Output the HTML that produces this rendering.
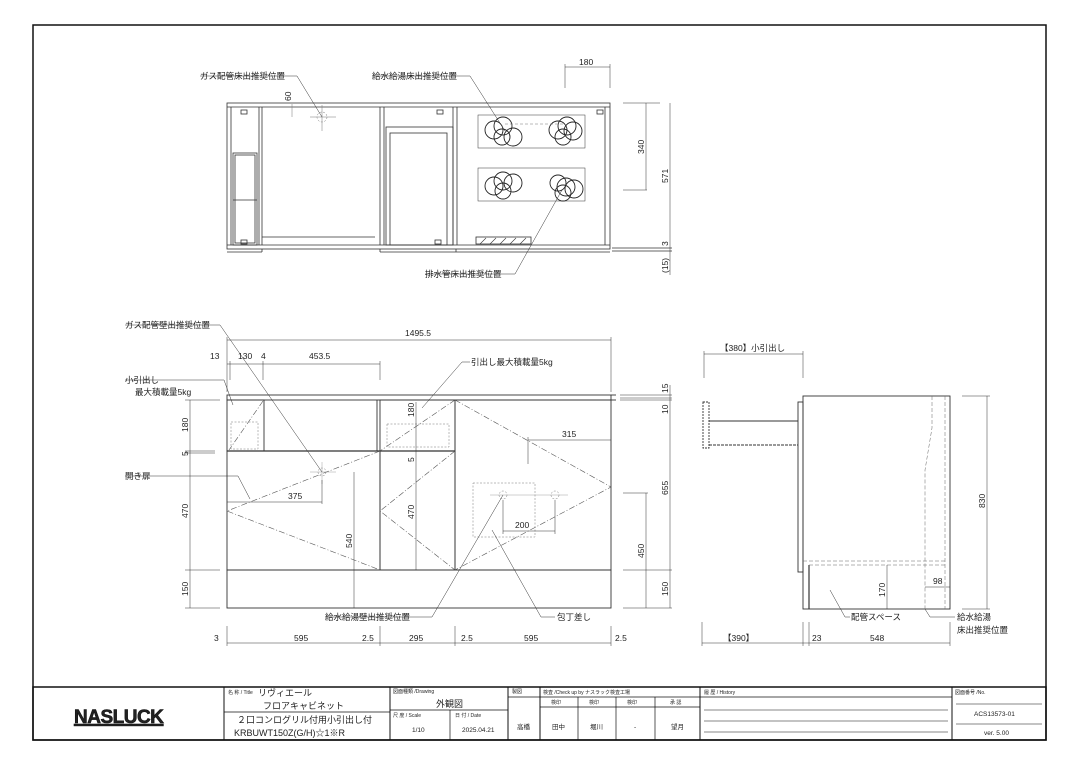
<!DOCTYPE html>
<html><head><meta charset="utf-8"><style>
html,body{margin:0;padding:0;background:#fff;}
svg{display:block;font-family:"Liberation Sans","Noto Sans CJK JP",sans-serif;}
text{fill:#222;}
</style></head><body>
<svg width="1080" height="764" viewBox="0 0 1080 764" xmlns="http://www.w3.org/2000/svg">
<rect x="0" y="0" width="1080" height="764" fill="#fff"/>
<rect x="33" y="25" width="1013" height="715" fill="none" stroke="#111" stroke-width="1.5"/>

<!-- TOP PLAN VIEW -->
<g stroke="#333" stroke-width="0.8" fill="none">
<rect x="227" y="103" width="383" height="146"/>
<line x1="227" y1="107" x2="610" y2="107"/>
<line x1="227" y1="245" x2="610" y2="245"/>
<line x1="227" y1="252" x2="262" y2="252"/><line x1="380" y1="252" x2="610" y2="252"/>
<line x1="262" y1="249" x2="262" y2="252"/><line x1="380" y1="249" x2="380" y2="252"/><line x1="456" y1="249" x2="456" y2="252"/>
<line x1="259" y1="107" x2="259" y2="245"/><line x1="262" y1="107" x2="262" y2="245"/>
<line x1="262" y1="237" x2="375" y2="237"/>
<rect x="233" y="153" width="24" height="92"/><rect x="235" y="155" width="20" height="88"/>
<line x1="233" y1="200" x2="257" y2="200"/>
<line x1="231" y1="107" x2="231" y2="245"/>
<line x1="380" y1="107" x2="380" y2="245"/><line x1="384" y1="107" x2="384" y2="245"/>
<line x1="453" y1="107" x2="453" y2="245"/><line x1="457" y1="107" x2="457" y2="245"/>
<rect x="386" y="127" width="67" height="118"/><rect x="390" y="133" width="57" height="112"/>
<line x1="605" y1="107" x2="605" y2="245"/>
<rect x="241" y="110" width="6" height="4"/><rect x="437" y="110" width="6" height="4"/><rect x="597" y="110" width="6" height="4"/>
<rect x="241" y="240" width="6" height="4"/><rect x="435" y="240" width="6" height="4"/>
<rect x="478" y="115" width="107" height="33" stroke-width="0.5"/>
<rect x="478" y="168" width="107" height="33" stroke-width="0.5"/>
<rect x="476" y="237" width="55" height="7"/>
<path d="M480 244 l6 -6 M490 244 l6 -6 M500 244 l6 -6 M510 244 l6 -6 M520 244 l6 -6" stroke-width="0.6"/>
</g>
<g stroke="#222" stroke-width="0.9" fill="none">
<circle cx="494" cy="130" r="9"/><circle cx="503" cy="126" r="9"/><circle cx="502" cy="137" r="8"/><circle cx="513" cy="137" r="9"/>
<circle cx="558" cy="130" r="9"/><circle cx="567" cy="126" r="9"/><circle cx="563" cy="137" r="8"/><circle cx="573" cy="131" r="9"/>
<circle cx="494" cy="186" r="9"/><circle cx="503" cy="181" r="9"/><circle cx="503" cy="191" r="8"/><circle cx="513" cy="183" r="9"/>
<circle cx="558" cy="183" r="8"/><circle cx="566" cy="187" r="9"/><circle cx="563" cy="193" r="8"/><circle cx="574" cy="189" r="9"/>
</g>
<g stroke="#777" stroke-width="0.5" fill="none">
<circle cx="322" cy="117" r="5" stroke-dasharray="2 1.5"/>
<line x1="310" y1="117" x2="336" y2="117"/><line x1="322" y1="105" x2="322" y2="131"/>
<line x1="292" y1="104" x2="292" y2="117"/>
<line x1="505" y1="124" x2="565" y2="124" stroke-dasharray="3 2"/>
</g>
<g stroke="#333" stroke-width="0.5" fill="none">
<line x1="565" y1="67" x2="610" y2="67"/><line x1="565" y1="64" x2="565" y2="88"/><line x1="610" y1="64" x2="610" y2="88"/>
<line x1="623" y1="103" x2="660" y2="103"/><line x1="623" y1="190" x2="647" y2="190"/>
<line x1="612" y1="248" x2="672" y2="248" stroke-width="0.8"/><line x1="612" y1="251" x2="672" y2="251" stroke-width="0.8"/>
<line x1="646" y1="103" x2="646" y2="190"/>
<line x1="670" y1="103" x2="670" y2="275"/>
<line x1="200" y1="76" x2="297" y2="76"/><path d="M297 76 L322 117"/>
<line x1="372" y1="76" x2="470" y2="76"/><path d="M470 76 L505 131"/>
<line x1="425" y1="274" x2="515" y2="274"/><path d="M515 274 L562 190"/>
</g>
<g font-size="8.5">
<text x="200" y="79">ガス配管床出推奨位置</text>
<text x="372" y="79">給水給湯床出推奨位置</text>
<text x="425" y="277">排水管床出推奨位置</text>
<text x="579" y="65">180</text>
<text transform="translate(291,101) rotate(-90)">60</text>
<text transform="translate(644,154) rotate(-90)">340</text>
<text transform="translate(668,183) rotate(-90)">571</text>
<text transform="translate(668,246) rotate(-90)">3</text>
<text transform="translate(668,273) rotate(-90)">(15)</text>
</g>

<!-- FRONT VIEW -->
<g stroke="#333" stroke-width="0.9" fill="none">
<rect x="227" y="395" width="384" height="5"/>
<line x1="611" y1="395" x2="616" y2="395"/><line x1="611" y1="400" x2="616" y2="400"/>
<rect x="227" y="400" width="37" height="51"/>
<rect x="380" y="400" width="75" height="51"/>
<line x1="377" y1="400" x2="377" y2="451"/>
<line x1="227" y1="451" x2="455" y2="451" stroke-width="1.3"/>
<rect x="227" y="451" width="153" height="119"/>
<rect x="380" y="451" width="75" height="119"/>
<rect x="455" y="400" width="156" height="170"/>
<rect x="227" y="570" width="384" height="38"/>
</g>
<g stroke="#555" stroke-width="0.6" fill="none" stroke-dasharray="6 2 1 2">
<path d="M380 451 L227 511 L380 570"/>
<path d="M455 451 L380 511 L455 570"/>
<path d="M455 400 L611 487 L455 570"/>
<path d="M455 400 L380 451"/>
<path d="M263 401 L229 450"/>
</g>
<g stroke="#777" stroke-width="0.5" fill="none" stroke-dasharray="2 1.5">
<rect x="231" y="422" width="27" height="27"/>
<rect x="387" y="424" width="62" height="23"/>
<rect x="473" y="483" width="62" height="54"/>
<circle cx="322" cy="472" r="4"/><circle cx="503" cy="495" r="4"/><circle cx="555" cy="495" r="4"/>
</g>
<g stroke="#888" stroke-width="0.4" fill="none">
<line x1="310" y1="472" x2="336" y2="472"/><line x1="322" y1="462" x2="322" y2="484"/>
<line x1="490" y1="495" x2="568" y2="495"/>
</g>
<g stroke="#333" stroke-width="0.5" fill="none">
<line x1="227" y1="340" x2="611" y2="340"/>
<line x1="227" y1="337" x2="227" y2="392"/><line x1="611" y1="337" x2="611" y2="392"/>
<line x1="227" y1="364" x2="380" y2="364"/>
<line x1="230" y1="361" x2="230" y2="380"/><line x1="263" y1="361" x2="263" y2="380"/><line x1="380" y1="361" x2="380" y2="380"/>
<line x1="190" y1="400" x2="190" y2="608"/>
<line x1="185" y1="400" x2="220" y2="400"/><line x1="185" y1="451" x2="215" y2="451"/><line x1="185" y1="453" x2="215" y2="453"/>
<line x1="185" y1="570" x2="220" y2="570"/><line x1="185" y1="608" x2="220" y2="608"/>
<line x1="227" y1="502" x2="322" y2="502"/><line x1="322" y1="480" x2="322" y2="504"/>
<line x1="354" y1="472" x2="354" y2="608"/>
<line x1="416" y1="402" x2="416" y2="570"/>
<line x1="528" y1="440" x2="611" y2="440"/><line x1="528" y1="437" x2="528" y2="464"/>
<line x1="503" y1="531" x2="555" y2="531"/><line x1="503" y1="500" x2="503" y2="534"/><line x1="555" y1="500" x2="555" y2="534"/>
<line x1="620" y1="395" x2="672" y2="395"/><line x1="620" y1="398" x2="672" y2="398"/><line x1="620" y1="400" x2="672" y2="400"/>
<line x1="623" y1="493" x2="648" y2="493"/><line x1="623" y1="570" x2="672" y2="570"/><line x1="623" y1="608" x2="672" y2="608"/>
<line x1="670" y1="385" x2="670" y2="608"/><line x1="646" y1="493" x2="646" y2="608"/>
<line x1="227" y1="643" x2="611" y2="643"/>
<line x1="227" y1="626" x2="227" y2="646"/><line x1="380" y1="626" x2="380" y2="646"/><line x1="455" y1="626" x2="455" y2="646"/><line x1="611" y1="626" x2="611" y2="646"/>
<line x1="125" y1="325" x2="220" y2="325"/><path d="M220 325 L322 472"/>
<line x1="125" y1="380" x2="224" y2="380"/><path d="M224 380 L233 405"/>
<line x1="125" y1="476" x2="238" y2="476"/><path d="M238 476 L250 499"/>
<line x1="462" y1="362" x2="470" y2="362"/><path d="M462 362 L422 408"/>
<line x1="325" y1="617" x2="432" y2="617"/><path d="M432 617 L503 495"/>
<line x1="541" y1="617" x2="555" y2="617"/><path d="M541 617 L492 530"/>
</g>
<g font-size="8.5">
<text x="125" y="328">ガス配管壁出推奨位置</text>
<text x="125" y="383">小引出し</text>
<text x="135" y="395">最大積載量5kg</text>
<text x="125" y="479">開き扉</text>
<text x="471" y="365">引出し最大積載量5kg</text>
<text x="325" y="620">給水給湯壁出推奨位置</text>
<text x="557" y="620">包丁差し</text>
<text x="405" y="336">1495.5</text>
<text x="210" y="359">13</text><text x="238" y="359">130</text><text x="261" y="359">4</text><text x="309" y="359">453.5</text>
<text x="562" y="437">315</text>
<text x="288" y="499">375</text>
<text x="515" y="528">200</text>
<text x="214" y="641">3</text><text x="294" y="641">595</text><text x="362" y="641">2.5</text><text x="409" y="641">295</text><text x="461" y="641">2.5</text><text x="524" y="641">595</text><text x="615" y="641">2.5</text>
<text transform="translate(188,432) rotate(-90)">180</text>
<text transform="translate(188,456) rotate(-90)">5</text>
<text transform="translate(188,518) rotate(-90)">470</text>
<text transform="translate(188,596) rotate(-90)">150</text>
<text transform="translate(352,548) rotate(-90)">540</text>
<text transform="translate(414,417) rotate(-90)">180</text>
<text transform="translate(414,462) rotate(-90)">5</text>
<text transform="translate(414,519) rotate(-90)">470</text>
<text transform="translate(668,393) rotate(-90)">15</text>
<text transform="translate(668,414) rotate(-90)">10</text>
<text transform="translate(668,495) rotate(-90)">655</text>
<text transform="translate(644,558) rotate(-90)">450</text>
<text transform="translate(668,596) rotate(-90)">150</text>
</g>

<!-- SIDE VIEW -->
<g stroke="#333" stroke-width="0.9" fill="none">
<rect x="803" y="396" width="147" height="213"/>
<rect x="798" y="402" width="5" height="170"/>
<rect x="703" y="402" width="6" height="46" stroke-dasharray="2 1"/>
<line x1="709" y1="421" x2="798" y2="421"/>
<line x1="709" y1="445" x2="798" y2="445" stroke-dasharray="3 1"/>
<line x1="809" y1="565" x2="809" y2="609" stroke-width="1.2"/>
</g>
<g stroke="#666" stroke-width="0.5" fill="none" stroke-dasharray="4 2">
<line x1="945" y1="396" x2="945" y2="609"/>
<path d="M932 396 L932 428 L925 470 L925 609"/>
<line x1="803" y1="561" x2="945" y2="561"/>
<line x1="809" y1="565" x2="945" y2="565"/>
</g>
<g stroke="#333" stroke-width="0.5" fill="none">
<line x1="704" y1="354" x2="803" y2="354"/><line x1="704" y1="351" x2="704" y2="378"/><line x1="803" y1="351" x2="803" y2="378"/>
<line x1="962" y1="396" x2="990" y2="396"/><line x1="962" y1="609" x2="990" y2="609"/>
<line x1="987" y1="396" x2="987" y2="609"/>
<line x1="887" y1="565" x2="887" y2="609"/>
<line x1="925" y1="587" x2="950" y2="587"/>
<line x1="702" y1="643" x2="950" y2="643"/>
<line x1="702" y1="622" x2="702" y2="646"/><line x1="803" y1="622" x2="803" y2="646"/><line x1="809" y1="622" x2="809" y2="646"/><line x1="950" y1="622" x2="950" y2="646"/>
<path d="M830 590 L845 617 L850 617"/>
<path d="M925 609 L930 617 L955 617"/>
</g>
<g font-size="8.5">
<text x="720" y="351">【380】小引出し</text>
<text x="851" y="620">配管スペース</text>
<text x="957" y="620">給水給湯</text>
<text x="957" y="633">床出推奨位置</text>
<text x="933" y="584">98</text>
<text x="723" y="641">【390】</text>
<text x="812" y="641">23</text>
<text x="870" y="641">548</text>
<text transform="translate(985,508) rotate(-90)">830</text>
<text transform="translate(885,597) rotate(-90)">170</text>
</g>

<!-- TITLE BLOCK -->
<g stroke="#111" stroke-width="1" fill="none">
<rect x="33" y="687" width="1013" height="53" stroke-width="1.5"/>
<line x1="224" y1="687" x2="224" y2="740"/>
<line x1="390" y1="687" x2="390" y2="740"/>
<line x1="224" y1="712" x2="390" y2="712" stroke-width="0.7"/>
<line x1="390" y1="710" x2="508" y2="710" stroke-width="0.7"/>
<line x1="450" y1="710" x2="450" y2="740" stroke-width="0.7"/>
<line x1="508" y1="687" x2="508" y2="740"/>
<line x1="540" y1="687" x2="540" y2="740"/>
<line x1="508" y1="697" x2="700" y2="697" stroke-width="0.7"/>
<line x1="540" y1="707" x2="700" y2="707" stroke-width="0.7"/>
<line x1="578" y1="697" x2="578" y2="740" stroke-width="0.7"/>
<line x1="616" y1="697" x2="616" y2="740" stroke-width="0.7"/>
<line x1="655" y1="697" x2="655" y2="740" stroke-width="0.7"/>
<line x1="700" y1="687" x2="700" y2="740"/>
<line x1="700" y1="697" x2="952" y2="697" stroke-width="0.7"/>
<line x1="704" y1="710" x2="948" y2="710" stroke-width="0.6"/>
<line x1="704" y1="721" x2="948" y2="721" stroke-width="0.6"/>
<line x1="704" y1="732" x2="948" y2="732" stroke-width="0.6"/>
<line x1="952" y1="687" x2="952" y2="740"/>
<line x1="956" y1="704" x2="1042" y2="704" stroke-width="0.6"/>
<line x1="956" y1="724" x2="1042" y2="724" stroke-width="0.6"/>
</g>
<text x="74" y="723" font-size="19" font-weight="bold" fill="#111" stroke="#111" stroke-width="0.6" letter-spacing="-0.5" style="text-decoration:underline">NASLUCK</text>
<g font-size="5" fill="#333">
<text x="228" y="694">名 称 / Title</text>
<text x="393" y="693">図面種類 /Drawing</text>
<text x="393" y="717">尺 度 / Scale</text>
<text x="455" y="717">日 付 / Date</text>
<text x="512" y="693">製図</text>
<text x="543" y="694">検査 /Check up by ナスラック検査工場</text>
<text x="551" y="704">検印</text><text x="589" y="704">検印</text><text x="627" y="704">検印</text><text x="670" y="704">承 認</text>
<text x="704" y="694">履 歴 / History</text>
<text x="955" y="694">図面番号 /No.</text>
</g>
<g font-size="9" fill="#111">
<text x="258" y="696">リヴィエール</text>
<text x="263" y="709">フロアキャビネット</text>
<text x="237" y="723">２口コンログリル付用小引出し付</text>
<text x="234" y="736">KRBUWT150Z(G/H)☆1※R</text>
<text x="436" y="707">外観図</text>
</g>
<g font-size="6.5" fill="#222">
<text x="412" y="732">1/10</text>
<text x="462" y="732">2025.04.21</text>
<text x="517" y="729">高橋</text>
<text x="552" y="729">田中</text>
<text x="590" y="729">堀川</text>
<text x="634" y="729">-</text>
<text x="671" y="729">望月</text>
<text x="974" y="716">ACS13573-01</text>
<text x="984" y="735">ver. 5.00</text>
</g>
</svg>
</body></html>
